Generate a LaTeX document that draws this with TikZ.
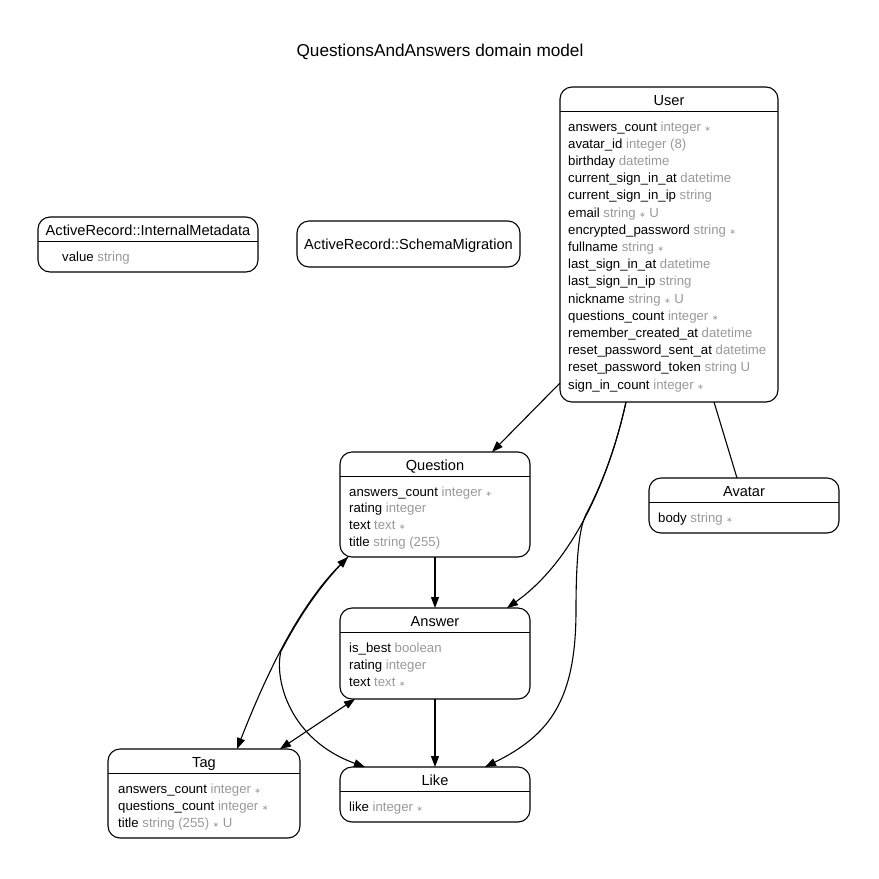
\documentclass[tikz,border=0pt]{standalone}
\usepackage{fontspec}
\setmainfont{Liberation Sans}
\newfontfamily\symf{DejaVu Sans}
\usetikzlibrary{arrows.meta,calc}

\definecolor{typegray}{HTML}{999999}
% small marker for required (not null) columns
\newcommand\req{{\symf\fontsize{7.5}{7.5}\selectfont ∗}}

\tikzset{
  entity/.style={draw, line width=1.1pt, rounded corners=12pt, inner sep=0pt,
                 outer sep=0pt, anchor=north west},
  entline/.style={line width=1.1pt},
  ename/.style={font=\fontsize{14.6}{16}\selectfont, inner sep=0pt, anchor=base},
  attr/.style={font=\fontsize{13.2}{15}\selectfont, inner sep=0pt, anchor=base west},
  rel/.style={line width=1.1pt, -{Triangle[length=11pt,width=8pt]}},
  relboth/.style={line width=1.1pt, {Triangle[length=11pt,width=8pt]}-{Triangle[length=11pt,width=8pt]}},
  assoc/.style={line width=1.1pt},
}

% box with title and header rule:
% #1 name, #2 left, #3 top, #4 width, #5 height, #6 title
\newcommand\entitybox[6]{%
  \node[entity, minimum width=#4pt, minimum height=#5pt] (#1) at (#2,#3) {};
  \node[ename] (#1-title) at ($(#1.north)+(0,18)$) {#6};
  \draw[entline] ($(#1.north west)+(0,24.5)$) -- ($(#1.north east)+(0,24.5)$);
}
% one column row: #1 entity, #2 row index, #3 indent, #4 row step, #5 column, #6 type
\newcommand\colrow[6]{%
  \node[attr] (#1-a#2) at ($(#1.north west)+(#3,44+#4*#2)$)
    {#5\ \textcolor{typegray}{#6}};
}
\newcommand\userrow[3]{\colrow{user}{#1}{8}{17.2}{#2}{#3}}

\begin{document}
\begin{tikzpicture}[x=1pt,y=-1pt]
\useasboundingbox (0,0) rectangle (879,879);

\node[font=\fontsize{17.2}{20}\selectfont, anchor=base] (diagram-title) at (440,56)
  {QuestionsAndAnswers domain model};

% User
\entitybox{user}{560}{87}{218}{315}{User}
\userrow{0}{answers\_count}{integer \req}
\userrow{1}{avatar\_id}{integer (8)}
\userrow{2}{birthday}{datetime}
\userrow{3}{current\_sign\_in\_at}{datetime}
\userrow{4}{current\_sign\_in\_ip}{string}
\userrow{5}{email}{string \req{} U}
\userrow{6}{encrypted\_password}{string \req}
\userrow{7}{fullname}{string \req}
\userrow{8}{last\_sign\_in\_at}{datetime}
\userrow{9}{last\_sign\_in\_ip}{string}
\userrow{10}{nickname}{string \req{} U}
\userrow{11}{questions\_count}{integer \req}
\userrow{12}{remember\_created\_at}{datetime}
\userrow{13}{reset\_password\_sent\_at}{datetime}
\userrow{14}{reset\_password\_token}{string U}
\userrow{15}{sign\_in\_count}{integer \req}

% ActiveRecord::InternalMetadata
\entitybox{meta}{38}{217}{220}{55}{ActiveRecord::InternalMetadata}
\colrow{meta}{0}{24}{17}{value}{string}

% ActiveRecord::SchemaMigration
\node[entity, minimum width=223pt, minimum height=46pt] (schema) at (297,221) {};
\node[ename] (schema-title) at ($(schema.center)+(0,5)$) {ActiveRecord::SchemaMigration};

% Question
\entitybox{question}{340}{452}{190}{105}{Question}
\colrow{question}{0}{9}{16.9}{answers\_count}{integer \req}
\colrow{question}{1}{9}{16.9}{rating}{integer}
\colrow{question}{2}{9}{16.9}{text}{text \req}
\colrow{question}{3}{9}{16.9}{title}{string (255)}

% Avatar
\entitybox{avatar}{649}{478}{190}{55}{Avatar}
\colrow{avatar}{0}{9}{17}{body}{string \req}

% Answer
\entitybox{answer}{340}{608}{190}{91}{Answer}
\colrow{answer}{0}{9}{17}{is\_best}{boolean}
\colrow{answer}{1}{9}{17}{rating}{integer}
\colrow{answer}{2}{9}{17}{text}{text \req}

% Tag
\entitybox{tag}{108}{749}{192}{89}{Tag}
\colrow{tag}{0}{10}{17}{answers\_count}{integer \req}
\colrow{tag}{1}{10}{17}{questions\_count}{integer \req}
\colrow{tag}{2}{10}{17}{title}{string (255) \req{} U}

% Like
\entitybox{like}{340}{767}{190}{55}{Like}
\colrow{like}{0}{9}{17}{like}{integer \req}

% relations
\draw[rel] ($(user.south west)+(0,-19)$) -- ($(question.north east)+(-38,0)$);
\draw[rel] ($(user.south west)+(66,0)$) .. controls (610,475) and (575,560)
  .. ($(answer.north east)+(-23,0)$);
\draw[rel] ($(user.south west)+(66,0)$) .. controls (618,438.5) and (605.25,478)
  .. (586,514.4) .. controls (579,528) and (576,560) .. (576,610)
  .. controls (576,700) and (550,735) .. ($(like.north east)+(-45,0)$);
\draw[assoc] ($(user.south west)+(154,0)$) -- ($(avatar.north west)+(88,0)$);

\draw[rel] (question.south) -- (answer.north);
\draw[rel] (answer.south) -- (like.north);

\draw[relboth] ($(question.south west)+(8,0)$) .. controls (300,605) and (268,670)
  .. ($(tag.north west)+(129,0)$);
\draw[rel] ($(question.south west)+(8,0)$) .. controls (321.6,583.4) and (300,615)
  .. (280.9,651.4) .. controls (274,680) and (290,740) .. ($(like.north west)+(25,0)$);
\draw[relboth] ($(answer.south west)+(15,0)$) -- ($(tag.north east)+(-20,0)$);

\end{tikzpicture}
\end{document}
